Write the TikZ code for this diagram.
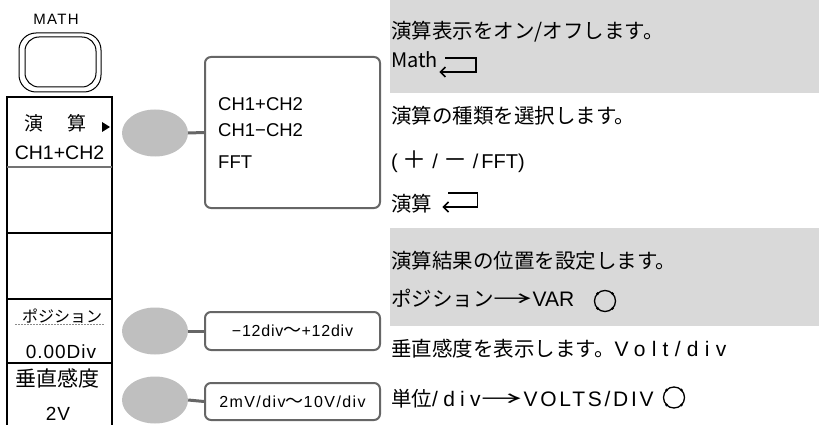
\documentclass[tikz,border=0pt]{standalone}
\usepackage{fontspec}
\setmainfont{Liberation Sans}
\newfontfamily\jp{Noto Sans CJK JP}
\newfontfamily\lsA[LetterSpace=9]{Liberation Sans}
\newfontfamily\lsC[LetterSpace=5]{Liberation Sans}
\newfontfamily\lsE[LetterSpace=9]{Liberation Sans}
\newfontfamily\lsD[LetterSpace=5]{Liberation Sans}
\newfontfamily\lsF[LetterSpace=30]{Liberation Sans}
\newfontfamily\lsG[LetterSpace=25]{Liberation Sans}
\newfontfamily\lsH[LetterSpace=13]{Liberation Sans}
\usetikzlibrary{shapes.geometric,arrows.meta,calc}
\definecolor{band}{HTML}{D9D9D9}
\definecolor{oval}{HTML}{BFBFBF}
\definecolor{boxline}{HTML}{666666}
\newcommand{\wv}{{\jp\fontsize{18}{18}\selectfont 〜}}
\newcommand{\rarr}{\scalebox{1.9}[1]{→}}
\newcommand{\bigpm}[1]{{\jp\fontsize{24}{24}\selectfont #1}}
\begin{document}
\begin{tikzpicture}[x=1pt,y=-1pt,
  panel/.style={line width=1.5pt,black},
  oval/.style={ellipse,fill=oval,draw=none,minimum width=66pt,minimum height=47pt,inner sep=0pt},
  optbox/.style={draw=boxline,line width=2pt,rounded corners=6pt,fill=white,inner sep=0pt},
  conn/.style={draw=boxline,line width=3pt},
  rtext/.style={anchor=base west,inner sep=0pt,font=\jp\fontsize{20.5}{21}\selectfont},
  ptext/.style={anchor=base,inner sep=0pt},
  optfont/.style={anchor=base west,inner sep=0pt,font=\fontsize{18.5}{19}\selectfont},
  knob/.style={line width=1.3pt},
  ret/.style={line width=1.6pt,-{Straight Barb[length=5pt,width=10pt]}}
]
\useasboundingbox (0,0) rectangle (819,425);
% gray bands
\fill[band] (390,0) rectangle (819,93);
\fill[band] (390,228) rectangle (819,326);
% MATH button
\node[ptext,font=\lsA\fontsize{15}{15}\selectfont] (mathlbl) at (56,25) {MATH};
\draw[line width=1pt] (19,33) [rounded corners=17pt] rectangle (101,92);
\draw[line width=1pt] (25,37) [rounded corners=14pt] rectangle (96,87);
% panel
\draw[panel] (7,425) -- (7,97) -- (112,97) -- (112,425);
\draw[line width=1.5pt,black!55] (7,167) -- (112,167);
\draw[panel] (7,233) -- (112,233);
\draw[panel] (7,299) -- (112,299);
\draw[panel] (7,363) -- (112,363);
\draw[black!45,line width=1pt,dash pattern=on 2pt off 1pt] (15,324) -- (104,324);
\node[ptext,font=\jp\fontsize{19}{19}\selectfont] (p1) at (55.5,131) {演\hspace{25pt}算};
\node[ptext,font=\fontsize{19.5}{20}\selectfont] (p2) at (59.5,160) {CH1+CH2};
\fill (102,122) -- (110,127) -- (102,132) -- cycle;
\node[ptext,font=\jp\fontsize{16}{16}\selectfont] (p3) at (62,322) {ポジション};
\node[ptext,font=\lsD\fontsize{19}{19}\selectfont] (p4) at (61,358) {0.00Div};
\node[ptext,font=\jp\fontsize{21}{21}\selectfont] (p5) at (58,386) {垂直感度};
\node[ptext,font=\lsD\fontsize{19}{19}\selectfont] (p6) at (58,420) {2V};
% ovals and boxes
\node[oval] (e1) at (155,133) {};
\node[oval] (e2) at (155,331) {};
\node[oval] (e3) at (155,400) {};
\node[optbox,minimum width=175pt,minimum height=151pt] (b1) at (292.5,132.5) {};
\node[optbox,minimum width=175pt,minimum height=38pt,font=\lsC\fontsize{16}{16}\selectfont] (b2) at (292.5,331) {−12div\wv+12div};
\node[optbox,minimum width=175pt,minimum height=37pt,font=\lsE\fontsize{16}{16}\selectfont] (b3) at (292.5,401.5) {2mV/div\wv10V/div};
\draw[conn] (e1.east) -- (b1.west);
\draw[conn] (e2.east) -- (b2.west);
\draw[conn] (e3.east) -- (b3.west);
\node[optfont] (o1) at (218,111) {CH1+CH2};
\node[optfont] (o2) at (218,136) {CH1−CH2};
\node[optfont] (o3) at (218,168) {FFT};
% right texts
\node[rtext] (r1) at (391,38.5) {演算表示をオン/オフします。};
\node[rtext,font=\jp\fontsize{20}{20}\selectfont] (r2) at (391,68) {Math};
\draw[ret] ($(r2.base east)+(7,-10)$) -- ++(31,0) -- ++(0,14) -- ++(-37,0);
\node[rtext,font=\fontsize{20}{20}\selectfont] (r4) at (391,168) {(\hspace{5pt}\bigpm{＋}\hspace{5.5pt}/\hspace{5.5pt}\bigpm{－}\hspace{5.5pt}/\hspace{3pt}FFT)};
\node[rtext] (r3) at (391,123.5) {演算の種類を選択します。};
\node[rtext] (r5) at (391,211.5) {演算};
\draw[ret] ($(r5.base east)+(16,-18.5)$) -- ++(29,0) -- ++(0,14) -- ++(-35,0);
\node[rtext] (r6) at (391,268.5) {演算結果の位置を設定します。};
\node[rtext] (r7) at (391,306) {ポジション\rarr{\fontsize{21}{21}\selectfont\rmfamily VAR}};
\node[rtext] (r8) at (391,356.5) {垂直感度を表示します。{\lsF\fontsize{21}{21}\selectfont Volt/div}};
\node[rtext] (r9) at (391,406) {単位{\lsG\fontsize{21}{21}\selectfont /div}\hspace{1pt}\scalebox{2.0}[1]{→}\hspace{1pt}{\lsH\fontsize{21}{21}\selectfont VOLTS/DIV}};
\coordinate (k1) at (605,301);
\coordinate (k2) at (674,397.5);
\foreach \k in {k1,k2}{
  \draw[knob] (\k) circle (10.5pt);
  \foreach \a in {45,135,225,315}{\fill (\k) ++(\a:10.5pt) circle (1.6pt);}
}
\end{tikzpicture}
\end{document}
